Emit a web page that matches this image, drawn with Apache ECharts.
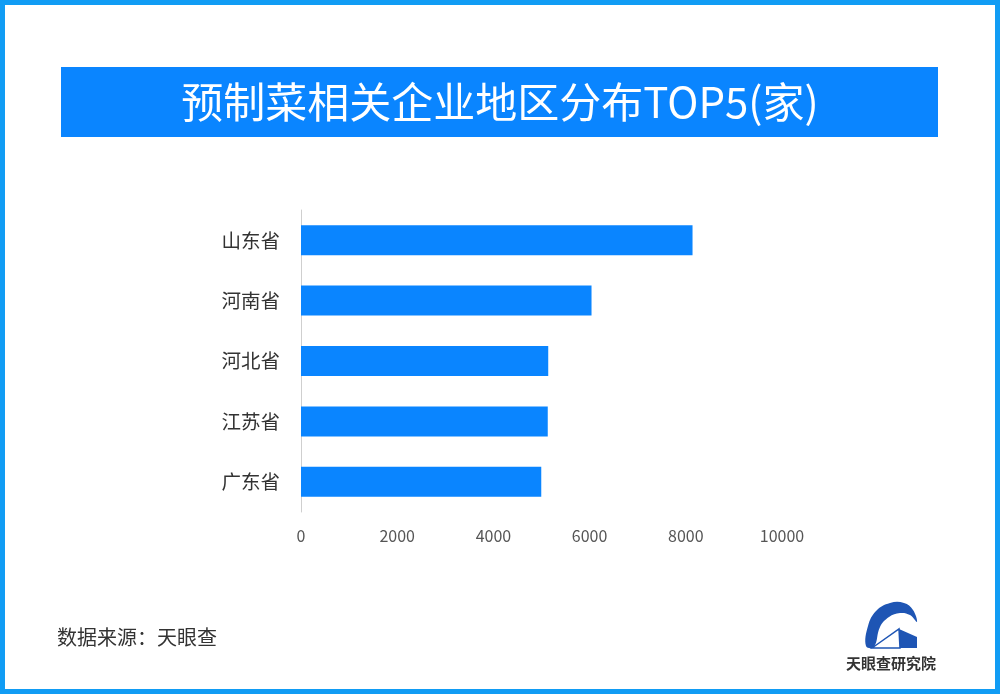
<!DOCTYPE html>
<html><head><meta charset="utf-8">
<script src="https://cdn.jsdelivr.net/npm/echarts@6/dist/echarts.min.js"></script>
<style>html,body{margin:0;padding:0;background:#fff}#c{width:1000px;height:694px}</style>
</head><body><div id="c"></div>
<script>
const categories = ['山东省','河南省','河北省','江苏省','广东省'];
const values = [8140, 6040, 5140, 5130, 4995];
const xTicks = [0, 2000, 4000, 6000, 8000, 10000];
const titleText = '预制菜相关企业地区分布TOP5(家)';
const sourceText = '数据来源：天眼查';
const logoText = '天眼查研究院';

const chart = echarts.init(document.getElementById('c'));
const font = '"Noto Sans CJK SC","Noto Sans",sans-serif';
chart.setOption({
  backgroundColor: '#fff',
  animation: false,
  grid: {left: 301, width: 481, top: 210, height: 302, containLabel: false},
  xAxis: {
    type: 'value', min: xTicks[0], max: xTicks[xTicks.length-1], interval: 2000,
    axisLine: {show: false}, axisTick: {show: false}, splitLine: {show: false},
    axisLabel: {color: '#555', fontSize: 16, fontFamily: font, margin: 16, formatter: v => String(v)}
  },
  yAxis: {
    type: 'category', data: categories, inverse: true,
    axisLine: {show: true, lineStyle: {color: '#cfcfcf', width: 1}},
    axisTick: {show: false},
    axisLabel: {color: '#333', fontSize: 19.5, fontFamily: font, margin: 21}
  },
  series: [{
    type: 'bar', data: values, barWidth: 30,
    itemStyle: {color: '#0A85FF'}
  }],
  graphic: [
    {type: 'rect', shape: {x: 2.5, y: 2.5, width: 995, height: 689}, style: {fill: 'none', stroke: '#119CF4', lineWidth: 5}, z: 100},
    {type: 'rect', shape: {x: 61, y: 67, width: 877, height: 70}, style: {fill: '#0A85FF'}},
    {type: 'text', x: 500, y: 102, style: {text: titleText, fill: '#fff', font: '400 42px ' + font, textAlign: 'center', textVerticalAlign: 'middle'}},
    {type: 'text', x: 57, y: 637, style: {text: sourceText, fill: '#333', font: '20px ' + font, textAlign: 'left', textVerticalAlign: 'middle'}},
    {type: 'polygon', shape: {smooth: 0.4, points: [[866,646],[868,626],[876,611],[890,603],[904,603],[913,610],[917,622],[910,615],[900,613],[889,617],[880,627],[874,647]]}, style: {fill: '#1E55B4'}},
    {type: 'polygon', shape: {points: [[899,629],[917,637],[917,648],[900,648]]}, style: {fill: '#1E55B4'}},
    {type: 'polygon', shape: {points: [[872,648],[899,629],[900,648]]}, style: {fill: '#fff', stroke: '#1E55B4', lineWidth: 1.5}},
    {type: 'text', x: 891, y: 663, style: {text: logoText, fill: '#333', font: 'bold 15px ' + font, textAlign: 'center', textVerticalAlign: 'middle'}}
  ]
});
</script></body></html>
